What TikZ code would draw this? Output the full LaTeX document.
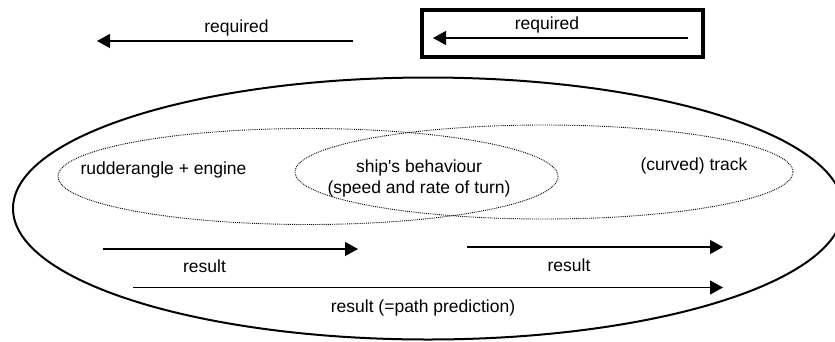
\documentclass[tikz,border=0pt]{standalone}
\usepackage{fontspec}
\setmainfont{Liberation Sans}
\usepackage{tikz}
\usetikzlibrary{arrows.meta,positioning}

\begin{document}
\begin{tikzpicture}[x=1pt, y=-1pt, >={Triangle[length=13pt,width=14pt]},
    font=\fontsize{17.5}{21}\selectfont]
  \tikzstyle{lbl}=[inner sep=0pt]
  \tikzstyle{flow}=[->, line width=1.2pt]
  \tikzstyle{zone}=[densely dotted, line width=0.9pt]
  \useasboundingbox (0,0) rectangle (835,341);
  \clip (0,0) rectangle (835,341);

  % outer ellipse and the two overlapping zones
  \draw[line width=2pt] (428,208.5) ellipse [x radius=415pt, y radius=131pt];
  \draw[zone] (308,176.5) ellipse [x radius=250pt, y radius=48pt];
  \draw[zone] (544,172) ellipse [x radius=249pt, y radius=47pt];

  \node[lbl] (rudder) at (163.5,169.5) {rudderangle + engine};
  \node[lbl, align=center] (ship) at (419,178) {ship\textquotesingle s behaviour\\(speed and rate of turn)};
  \node[lbl] (track) at (694,165.5) {(curved) track};

  % required
  \coordinate (rqa) at (353,41);
  \coordinate (rqb) at (97,41);
  \node[lbl] (req) at (236.5,27.5) {required};
  \draw[flow] (rqa) -- (rqb);

  \draw[line width=3.5pt] (422,10) rectangle (703,57);
  \coordinate (rba) at (688,38);
  \coordinate (rbb) at (433,38);
  \node[lbl] (reqbox) at (547,25) {required};
  \draw[flow] (rba) -- (rbb);

  % results
  \coordinate (r1a) at (103,249);
  \coordinate (r1b) at (358,249);
  \node[lbl] (res1) at (204.5,266.5) {result};
  \draw[flow] (r1a) -- (r1b);

  \coordinate (r2a) at (467,247);
  \coordinate (r2b) at (723,247);
  \node[lbl] (res2) at (569,265) {result};
  \draw[flow] (r2a) -- (r2b);

  \coordinate (r3a) at (133,287.5);
  \coordinate (r3b) at (723,287.5);
  \node[lbl] (path) at (423,307.5) {result (=path prediction)};
  \draw[flow] (r3a) -- (r3b);
\end{tikzpicture}
\end{document}
